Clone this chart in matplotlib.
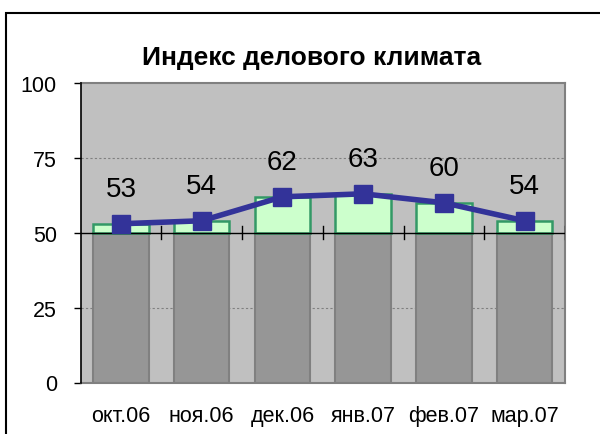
import matplotlib.pyplot as plt
from matplotlib.patches import Rectangle

months = ["окт.06", "ноя.06", "дек.06", "янв.07", "фев.07", "мар.07"]
index_values = [53, 54, 62, 63, 60, 54]
base_level = 50
y_ticks = [0, 25, 50, 75, 100]

plt.rcParams['font.family'] = ['Liberation Sans', 'DejaVu Sans']

fig = plt.figure(figsize=(6, 4.35), dpi=100)
ax = fig.add_axes([80.5 / 600, 1 - 383.5 / 435, (565 - 80.5) / 600, (383.5 - 84) / 435])

# outer chart frame (right and bottom edges run off the picture)
fig.patches.append(Rectangle((6 / 600, -0.1), 1.2, 1 - 14 / 435 + 0.1,
                             transform=fig.transFigure, fill=False,
                             edgecolor="black", linewidth=1.5))

ax.set_facecolor("#C0C0C0")
x = list(range(len(months)))

ax.bar(x, [base_level] * len(months), width=0.69, bottom=0,
       color="#969696", edgecolor="#808080", linewidth=1.5, zorder=2)
ax.bar(x, [v - base_level for v in index_values], width=0.69, bottom=base_level,
       color="#CCFFCC", edgecolor="#339966", linewidth=1.8, zorder=2)

ax.plot(x, index_values, color="#333399", linewidth=4, marker="s",
        markersize=13, zorder=4)

for xi, v in zip(x, index_values):
    ax.annotate(str(v), (xi, v), xytext=(0, 25), textcoords="offset points",
                ha="center", va="center", fontsize=20, zorder=5)

# horizontal category axis crossing at 50
ax.axhline(base_level, color="black", linewidth=1, zorder=3)
for b in range(1, len(months) + 1):
    ax.plot([b - 0.5, b - 0.5], [base_level - 2.2, base_level + 2.2],
            color="black", linewidth=1, zorder=3)

for g in [25, 75]:
    ax.axhline(g, color="#808080", linewidth=0.8, linestyle=(0, (2, 2)), zorder=1)

ax.set_xlim(-0.5, len(months) - 0.5)
ax.set_ylim(0, 100)
ax.set_yticks(y_ticks)
ax.tick_params(axis="y", direction="out", length=5, width=1, pad=12, labelsize=15.5)
ax.set_xticks(x)
ax.set_xticklabels(months)
ax.tick_params(axis="x", length=0, pad=16, labelsize=15.5)

for side in ["top", "right", "bottom"]:
    ax.spines[side].set_color("#808080")
    ax.spines[side].set_linewidth(1.5)
ax.spines["left"].set_color("black")
ax.spines["left"].set_linewidth(1.2)
ax.spines["left"].set_zorder(5)

fig.text(0.52, 1 - 58 / 435, "Индекс делового климата", ha="center", va="center",
         fontsize=19, fontweight="bold")

fig.savefig("out.png", dpi=100)
